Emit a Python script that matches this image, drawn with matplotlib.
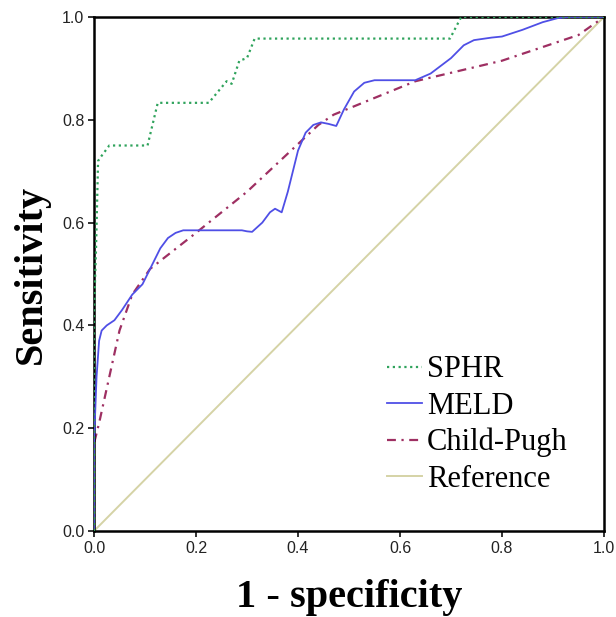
import matplotlib
matplotlib.use("Agg")
import matplotlib.pyplot as plt
from matplotlib.ticker import FormatStrFormatter

# ROC points (x = 1 - specificity, y = sensitivity)
sphr_x = [0.0, 0.0, 0.004, 0.008, 0.015, 0.03, 0.105, 0.125, 0.225, 0.26, 0.27,
          0.285, 0.30, 0.315, 0.698, 0.72, 1.0]
sphr_y = [0.0, 0.42, 0.55, 0.72, 0.73, 0.75, 0.75, 0.833, 0.833, 0.875, 0.87,
          0.915, 0.92, 0.958, 0.958, 1.0, 1.0]

meld_x = [0.0, 0.0, 0.005, 0.01, 0.015, 0.025, 0.04, 0.055, 0.075, 0.095, 0.11,
          0.13, 0.145, 0.16, 0.175, 0.20, 0.29, 0.30, 0.31, 0.33, 0.345, 0.355,
          0.368, 0.38, 0.40, 0.415, 0.43, 0.445, 0.46, 0.475, 0.49, 0.51, 0.53,
          0.55, 0.63, 0.66, 0.70, 0.725, 0.745, 0.78, 0.80, 0.84, 0.88, 0.91,
          0.93, 1.0]
meld_y = [0.0, 0.17, 0.30, 0.37, 0.39, 0.40, 0.41, 0.43, 0.46, 0.48, 0.51,
          0.55, 0.57, 0.58, 0.585, 0.585, 0.585, 0.583, 0.582, 0.60, 0.62, 0.627,
          0.62, 0.66, 0.74, 0.775, 0.79, 0.795, 0.792, 0.788, 0.82, 0.855, 0.872,
          0.877, 0.877, 0.89, 0.92, 0.945, 0.955, 0.96, 0.962, 0.975, 0.99, 0.998,
          1.0, 1.0]

child_x = [0.0, 0.0, 0.01, 0.03, 0.05, 0.075, 0.11, 0.20, 0.30, 0.44, 0.47,
           0.63, 0.80, 0.95, 1.0]
child_y = [0.0, 0.17, 0.21, 0.30, 0.39, 0.46, 0.51, 0.58, 0.66, 0.79, 0.81,
           0.875, 0.915, 0.965, 1.0]

ref_x = [0.0, 1.0]
ref_y = [0.0, 1.0]

ticks = [0.0, 0.2, 0.4, 0.6, 0.8, 1.0]

fig = plt.figure(figsize=(6.16, 6.17), dpi=100)
ax = fig.add_axes([94 / 616, 1 - 531 / 617, 510 / 616, 514 / 617])

ax.plot(ref_x, ref_y, color="#D5D3A6", linewidth=1.4, label="Reference", zorder=1)
ax.plot(child_x, child_y, color="#9E2F62", linewidth=1.6,
        linestyle=(0, (4, 2.5, 1, 2.5)), label="Child-Pugh", zorder=2)
ax.plot(meld_x, meld_y, color="#4F4FE6", linewidth=1.3, label="MELD", zorder=3)
ax.plot(sphr_x, sphr_y, color="#2FA35C", linewidth=1.6,
        linestyle=(0, (1, 1.6)), label="SPHR", zorder=4)

ax.set_xlim(0, 1)
ax.set_ylim(0, 1)
ax.set_xticks(ticks)
ax.set_yticks(ticks)
ax.xaxis.set_major_formatter(FormatStrFormatter("%.1f"))
ax.yaxis.set_major_formatter(FormatStrFormatter("%.1f"))
ax.tick_params(direction="out", length=4, width=1.3, colors="#222222",
               labelsize=11.5, pad=3)
for lbl in ax.get_xticklabels() + ax.get_yticklabels():
    lbl.set_family("Liberation Sans")
for side in ["left", "bottom", "top", "right"]:
    ax.spines[side].set_linewidth(1.8)
    ax.spines[side].set_color("black")

ax.set_xlabel("1 - specificity", fontsize=29, fontweight="bold",
              family="Liberation Serif", labelpad=17)
ax.set_ylabel("Sensitivity", fontsize=29, fontweight="bold",
              family="Liberation Serif", labelpad=9)

handles, labels = ax.get_legend_handles_labels()
order = [3, 2, 1, 0]
ax.legend([handles[i] for i in order], [labels[i] for i in order],
          loc="upper left", bbox_to_anchor=(0.575, 0.342), frameon=False,
          prop={"family": "Liberation Serif", "size": 22},
          handlelength=1.15, handletextpad=0.15, labelspacing=0.24,
          borderpad=0, borderaxespad=0)

fig.savefig("out.png", dpi=100)
